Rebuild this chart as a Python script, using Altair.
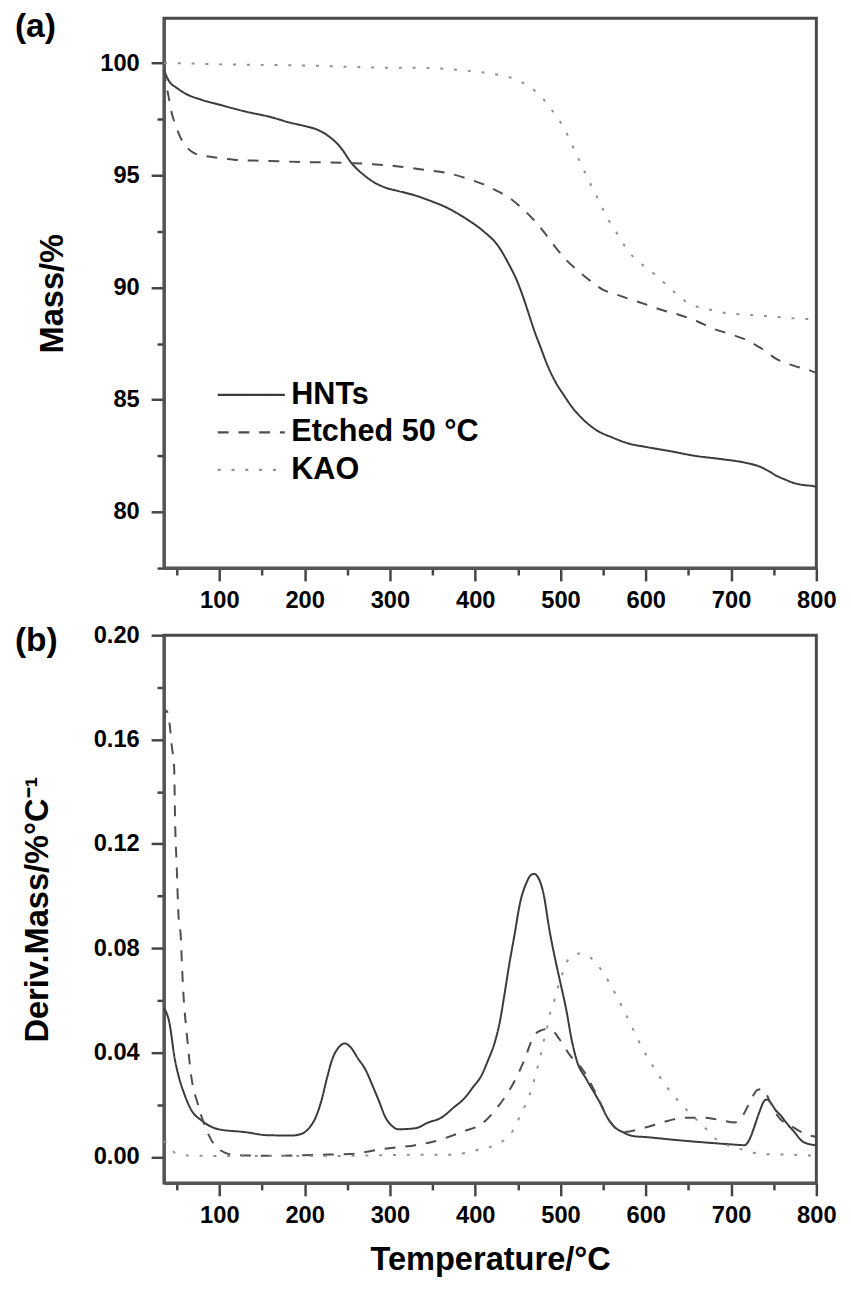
import altair as alt
import pandas as pd

FONT = "Liberation Sans"
SERIES = ["HNTs", "Etched 50 °C", "KAO"]
COLORS = ["#3a3a3a", "#4d4d4d", "#909090"]
DASHES = [[1, 0], [11, 10], [3, 11]]

# ---- panel (a): mass ----
hnt_mass_t = [35, 41, 50, 60, 79, 100, 130, 160, 183, 200, 214, 228, 241, 256, 270, 281, 295, 310, 330, 345,
              370, 388, 410, 426, 440, 449, 456, 463, 470, 477, 484, 494, 504, 513, 522, 540, 562, 580, 600,
              630, 658, 690, 716, 735, 745, 754, 763, 773, 785, 797, 800]
hnt_mass_v = [99.7, 99.2, 98.9, 98.65, 98.37, 98.15, 97.85, 97.6, 97.35, 97.2, 97.05, 96.75, 96.3, 95.5, 95.0,
              94.7, 94.45, 94.3, 94.1, 93.9, 93.5, 93.1, 92.5, 91.9, 91.0, 90.3, 89.6, 88.8, 88.0, 87.3, 86.6,
              85.8, 85.2, 84.7, 84.3, 83.7, 83.3, 83.05, 82.9, 82.7, 82.5, 82.35, 82.2, 82.0, 81.8, 81.6, 81.45,
              81.3, 81.2, 81.15, 81.1]

etc_mass_t = [35, 38, 41, 44, 48, 52, 57, 62, 70, 79, 95, 117, 150, 195, 253, 280, 310, 340, 368, 395, 410,
              426, 440, 453, 469, 480, 492, 505, 519, 535, 550, 565, 580, 600, 619, 638, 660, 677, 697, 716,
              735, 754, 775, 793, 800]
etc_mass_v = [99.7, 99.0, 98.4, 97.8, 97.3, 96.9, 96.5, 96.25, 96.0, 95.9, 95.8, 95.7, 95.65, 95.6, 95.55,
              95.5, 95.4, 95.25, 95.1, 94.8, 94.6, 94.3, 94.0, 93.6, 93.0, 92.5, 91.9, 91.3, 90.8, 90.3, 89.9,
              89.7, 89.5, 89.25, 89.0, 88.8, 88.5, 88.2, 87.95, 87.7, 87.3, 86.8, 86.5, 86.3, 86.2]

kao_mass_t = [35, 48, 100, 200, 300, 330, 380, 407, 425, 438, 452, 464, 472, 480, 488, 496, 502, 507, 513,
              519, 525, 530, 536, 542, 548, 553, 559, 565, 572, 580, 590, 600, 610, 619, 632, 646, 660, 677,
              697, 716, 750, 793, 800]
kao_mass_v = [100.0, 100.0, 99.95, 99.9, 99.8, 99.8, 99.7, 99.6, 99.5, 99.4, 99.2, 98.95, 98.7, 98.4, 98.0,
              97.6, 97.25, 96.9, 96.4, 95.9, 95.45, 95.0, 94.55, 94.1, 93.65, 93.2, 92.85, 92.5, 92.05, 91.6,
              91.2, 90.9, 90.6, 90.3, 89.85, 89.4, 89.15, 89.0, 88.85, 88.8, 88.7, 88.6, 88.6]

# ---- panel (b): derivative ----
hnt_dtg_t = [35, 41, 48, 53, 59, 67, 79, 99, 130, 157, 185, 195, 205, 214, 220, 226, 233, 240, 247, 254, 262,
             272, 280, 287, 295, 302, 310, 330, 345, 360, 375, 388, 398, 407, 415, 423, 429, 434, 440, 446,
             453, 460, 465, 469, 474, 480, 487, 493, 499, 507, 513, 519, 530, 545, 557, 565, 573, 585, 600,
             638, 696, 716, 722, 727, 733, 739, 742, 747, 752, 758, 765, 773, 785, 799]
hnt_dtg_v = [0.057, 0.052, 0.037, 0.030, 0.024, 0.018, 0.014, 0.0106, 0.0095, 0.0083, 0.0082, 0.0087, 0.011,
             0.016, 0.022, 0.030, 0.038, 0.042, 0.0435, 0.042, 0.038, 0.033, 0.027, 0.0215, 0.015, 0.012,
             0.0106, 0.011, 0.0132, 0.015, 0.019, 0.0227, 0.027, 0.031, 0.037, 0.044, 0.052, 0.0617, 0.074,
             0.085, 0.098, 0.105, 0.108, 0.1085, 0.107, 0.101, 0.087, 0.077, 0.068, 0.056, 0.045, 0.037,
             0.030, 0.0215, 0.014, 0.011, 0.0095, 0.008, 0.0076, 0.0064, 0.0049, 0.0045, 0.007, 0.0113,
             0.017, 0.0215, 0.022, 0.0205, 0.018, 0.016, 0.013, 0.010, 0.0057, 0.0045]

etc_dtg_t = [35, 38, 42, 44, 47, 48, 50, 52, 55, 56, 58, 62, 67, 75, 87, 99, 117, 156, 214, 253, 291, 330,
             349, 388, 407, 426, 446, 457, 469, 477, 484, 492, 499, 511, 527, 542, 557, 573, 600, 619, 646,
             669, 689, 704, 712, 719, 725, 731, 736, 739, 746, 754, 773, 788, 800]
etc_dtg_v = [0.168, 0.171, 0.165, 0.158, 0.149, 0.130, 0.111, 0.093, 0.083, 0.0745, 0.0617, 0.0465, 0.031,
             0.020, 0.0087, 0.003, 0.0008, 0.0004, 0.0008, 0.0011, 0.003, 0.0045, 0.0057, 0.010, 0.0125,
             0.019, 0.029, 0.0367, 0.0465, 0.0485, 0.049, 0.048, 0.045, 0.039, 0.033, 0.024, 0.014, 0.0095,
             0.0113, 0.0132, 0.015, 0.015, 0.014, 0.0132, 0.015, 0.019, 0.023, 0.0257, 0.026, 0.0253, 0.021,
             0.016, 0.0113, 0.0087, 0.0076]

kao_dtg_t = [35, 42, 48, 60, 79, 150, 250, 322, 368, 407, 423, 438, 446, 453, 459, 464, 468, 472, 476, 480,
             484, 487, 492, 496, 501, 507, 514, 522, 530, 538, 550, 562, 573, 585, 596, 608, 623, 638, 654,
             669, 684, 700, 716, 735, 773, 800]
kao_dtg_v = [0.006, 0.0045, 0.0015, 0.0006, 0.0004, 0.0003, 0.0004, 0.0008, 0.0008, 0.003, 0.0045, 0.0076,
             0.011, 0.016, 0.020, 0.024, 0.028, 0.033, 0.038, 0.044, 0.049, 0.054, 0.059, 0.064, 0.069,
             0.0745, 0.077, 0.078, 0.0775, 0.0756, 0.0707, 0.064, 0.057, 0.049, 0.0416, 0.035, 0.0276,
             0.0215, 0.016, 0.0113, 0.0064, 0.004, 0.0026, 0.0011, 0.0008, 0.0004]


def table(parts):
    rows = []
    for name, ts, vs in parts:
        for t, v in zip(ts, vs):
            rows.append({"series": name, "T": t, "v": v})
    return pd.DataFrame(rows)


mass_df = table([(SERIES[0], hnt_mass_t, hnt_mass_v),
                 (SERIES[1], etc_mass_t, etc_mass_v),
                 (SERIES[2], kao_mass_t, kao_mass_v)])
dtg_df = table([(SERIES[0], hnt_dtg_t, hnt_dtg_v),
                (SERIES[1], etc_dtg_t, etc_dtg_v),
                (SERIES[2], kao_dtg_t, kao_dtg_v)])

W = 661
xscale = alt.Scale(domain=[35, 800], nice=False, zero=False)


def x_axis(title):
    return alt.Axis(values=list(range(50, 801, 50)),
                    labelExpr="datum.value % 100 === 0 ? datum.label : ''",
                    tickSize={"condition": {"test": "datum.value % 100 !== 0", "value": 7}, "value": 13},
                    labelPadding=8, titlePadding=17, format="d", labelFlush=False, title=title)


# legend line sample: custom path longer than the unit box so that the row height
# follows the label, not the symbol length
legend = alt.Legend(title=None, orient="none", legendX=73, legendY=366, symbolType="M-4,0H4",
                    symbolSize=289, symbolStrokeWidth=2.5, labelFont=FONT, labelFontSize=31,
                    labelFontWeight="bold", labelColor="black", labelOffset=25, rowPadding=6,
                    labelLimit=400)

color_a = alt.Color("series:N", scale=alt.Scale(domain=SERIES, range=COLORS), legend=legend)
dash_a = alt.StrokeDash("series:N", scale=alt.Scale(domain=SERIES, range=DASHES), legend=legend)

lines_a = alt.Chart(mass_df).mark_line(strokeWidth=2, interpolate="monotone").encode(
    x=alt.X("T:Q", scale=xscale, axis=x_axis(None)),
    y=alt.Y("v:Q", scale=alt.Scale(domain=[77.5, 102], nice=False, zero=False),
            axis=alt.Axis(title="Mass/%", values=[77.5, 80, 82.5, 85, 87.5, 90, 92.5, 95, 97.5, 100],
                          labelExpr="datum.value % 5 === 0 ? datum.label : ''",
                          tickSize={"condition": {"test": "datum.value % 5 !== 0", "value": 7}, "value": 13},
                          format="d", labelPadding=12, titlePadding=31, labelFlush=False)),
    color=color_a,
    strokeDash=dash_a,
)

tag_a = alt.Chart(pd.DataFrame({"tag": ["(a)"]})).mark_text(
    font=FONT, fontSize=34, fontWeight="bold", align="left", baseline="top", color="black"
).encode(x=alt.value(-151), y=alt.value(-8), text="tag:N")

panel_a = alt.layer(lines_a, tag_a).properties(width=W, height=557)

color_b = alt.Color("series:N", scale=alt.Scale(domain=SERIES, range=COLORS), legend=None)
dash_b = alt.StrokeDash("series:N", scale=alt.Scale(domain=SERIES, range=DASHES), legend=None)

lines_b = alt.Chart(dtg_df).mark_line(strokeWidth=2, interpolate="monotone").encode(
    x=alt.X("T:Q", scale=xscale, axis=x_axis("Temperature/°C")),
    y=alt.Y("v:Q", scale=alt.Scale(domain=[-0.01, 0.20], nice=False, zero=False),
            axis=alt.Axis(title="Deriv.Mass/%°C⁻¹",
                          values=[0, 0.02, 0.04, 0.06, 0.08, 0.10, 0.12, 0.14, 0.16, 0.18, 0.20],
                          labelExpr="round(datum.value * 100) % 4 === 0 ? datum.label : ''",
                          tickSize={"condition": {"test": "round(datum.value * 100) % 4 !== 0", "value": 7},
                                    "value": 13},
                          format=".2f", labelPadding=12, titlePadding=39, labelFlush=False)),
    color=color_b,
    strokeDash=dash_b,
)

tag_b = alt.Chart(pd.DataFrame({"tag": ["(b)"]})).mark_text(
    font=FONT, fontSize=34, fontWeight="bold", align="left", baseline="top", color="black"
).encode(x=alt.value(-151), y=alt.value(-11), text="tag:N")

panel_b = alt.layer(lines_b, tag_b).properties(width=W, height=555)

chart = alt.vconcat(panel_a, panel_b, spacing=68, bounds="flush").resolve_scale(
    color="independent", strokeDash="independent"
).properties(
    background="white", padding={"top": -8, "left": 5, "right": 5, "bottom": 5}
).configure_view(
    stroke="#4a4a4a", strokeWidth=3
).configure_axis(
    grid=False, domainColor="#555555", domainWidth=3, tickColor="#444444", tickWidth=2.5,
    labelFont=FONT, labelFontSize=24, labelFontWeight="bold", labelColor="black",
    titleFont=FONT, titleFontSize=33, titleFontWeight="bold", titleColor="black"
)

chart.save("out.html", embed_options={"renderer": "svg", "actions": False})
